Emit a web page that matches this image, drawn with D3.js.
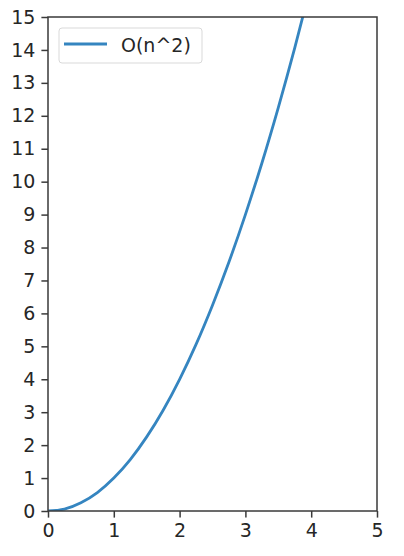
<!DOCTYPE html>
<html>
<head>
<meta charset="utf-8">
<script src="https://cdn.jsdelivr.net/npm/d3@7"></script>
<style>
  body { margin: 0; background: #fff; }
  text { font-family: "DejaVu Sans", sans-serif; fill: #262626; }
</style>
</head>
<body>
<script>
// O(n^2) curve, values
const nValues = [0, 0.25, 0.5, 0.75, 1, 1.25, 1.5, 1.75, 2, 2.25, 2.5, 2.75, 3, 3.25, 3.5, 3.75, 4]
const costValues = [0, 0.06, 0.25, 0.56, 1, 1.56, 2.25, 3.06, 4, 5.06, 6.25, 7.56, 9, 10.56, 12.25, 14.06, 16]
const xTicks = [0, 1, 2, 3, 4, 5]
const yTicks = [0, 1, 2, 3, 4, 5, 6, 7, 8, 9, 10, 11, 12, 13, 14, 15]
const seriesName = "O(n^2)"

const width = 404, height = 556
const margin = {top: 17, right: 27, bottom: 45, left: 48}

const x = d3.scaleLinear()
    .domain([0, 5])
    .range([margin.left, width - margin.right])

const y = d3.scaleLinear()
    .domain([0, 15])
    .range([height - margin.bottom, margin.top])

const svg = d3.select("body")
    .append("svg")
      .attr("width", width)
      .attr("height", height)

svg.append("defs").append("clipPath")
    .attr("id", "plot-clip")
  .append("rect")
    .attr("x", x(0))
    .attr("y", y(15))
    .attr("width", x(5) - x(0))
    .attr("height", y(0) - y(15))

const points = nValues.map(function(n, i){
  return {n: n, cost: costValues[i]}
})

const line = d3.line()
    .x(function(d){ return x(d.n) })
    .y(function(d){ return y(d.cost) })
    .curve(d3.curveMonotoneX)

svg.append("path")
    .datum(points)
    .attr("clip-path", "url(#plot-clip)")
    .attr("d", line)
    .style("fill", "none")
    .style("stroke", "#3585c0")
    .style("stroke-width", 2.8)

// axes
svg.append("g")
    .attr("transform", "translate(0," + y(0) + ")")
    .call(d3.axisBottom(x).tickValues(xTicks).tickFormat(d3.format("d")).tickSizeOuter(0).tickSize(6.6).tickPadding(6))

svg.append("g")
    .attr("transform", "translate(" + x(0) + ",0)")
    .call(d3.axisLeft(y).tickValues(yTicks).tickFormat(d3.format("d")).tickSizeOuter(0).tickSize(6.6).tickPadding(6))

svg.selectAll(".tick text")
    .style("font-size", "19px")
    .style("font-family", "'DejaVu Sans', sans-serif")
    .style("fill", "#262626")
svg.selectAll(".tick line").style("stroke", "#3a3a3a").style("stroke-width", 1.5)
svg.selectAll(".domain").remove()

// frame
svg.append("rect")
    .attr("x", x(0))
    .attr("y", y(15))
    .attr("width", x(5) - x(0))
    .attr("height", y(0) - y(15))
    .style("fill", "none")
    .style("stroke", "#3a3a3a")
    .style("stroke-width", 1.5)

// legend
const legend = svg.append("g")
    .attr("transform", "translate(59,28)")

legend.append("rect")
    .attr("width", 143)
    .attr("height", 35)
    .attr("rx", 3)
    .style("fill", "#fff")
    .style("fill-opacity", 0.8)
    .style("stroke", "#d9d9d9")

legend.append("line")
    .attr("x1", 5).attr("x2", 48)
    .attr("y1", 16).attr("y2", 16)
    .style("stroke", "#3585c0")
    .style("stroke-width", 2.8)

legend.append("text")
    .attr("x", 62)
    .attr("y", 24)
    .style("font-size", "19px")
    .text(seriesName)
</script>
</body>
</html>
